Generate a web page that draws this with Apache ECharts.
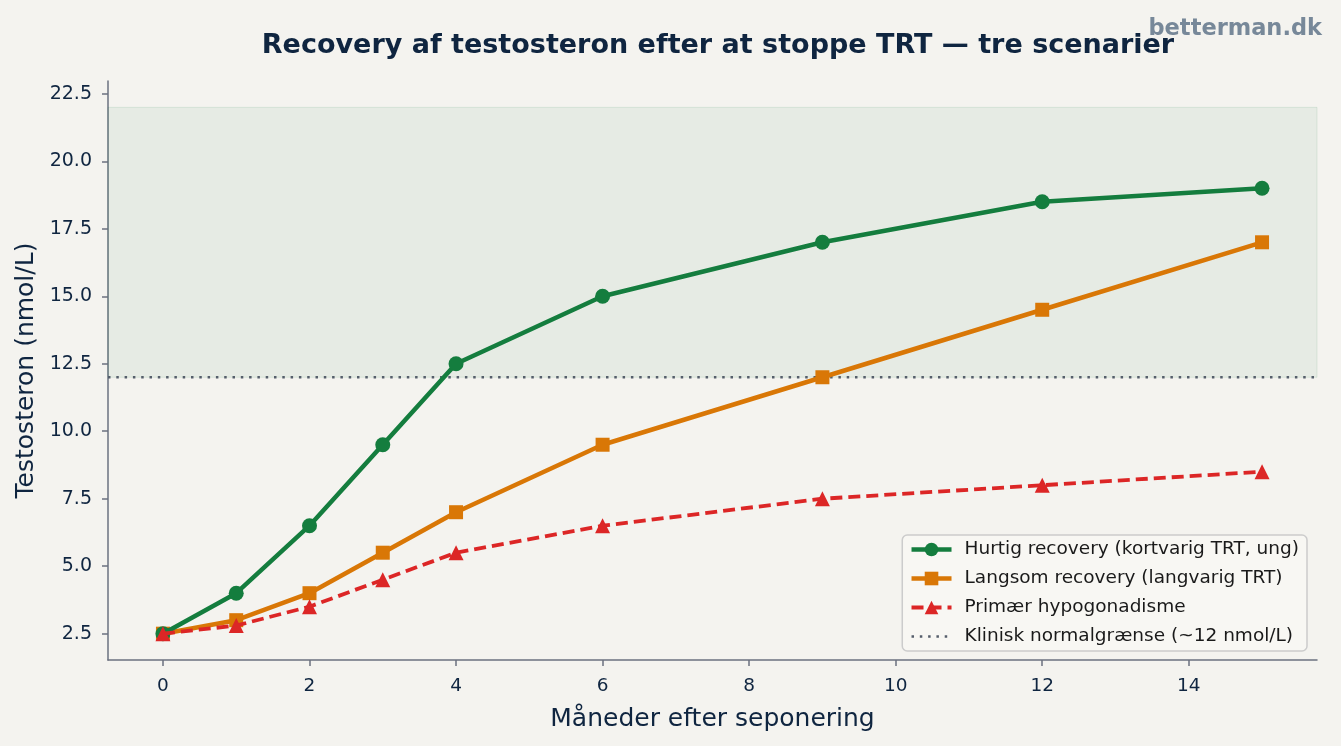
<!DOCTYPE html>
<html><head><meta charset="utf-8">
<script src="https://cdn.jsdelivr.net/npm/echarts@6/dist/echarts.min.js"></script>
<style>html,body{margin:0;padding:0;background:#f4f3ef;}#c{width:1341px;height:746px;}</style>
</head><body><div id="c"></div>
<script>
const months = [0, 1, 2, 3, 4, 6, 9, 12, 15];
const fastRecovery = [2.5, 4, 6.5, 9.5, 12.5, 15, 17, 18.5, 19];
const slowRecovery = [2.5, 3, 4, 5.5, 7, 9.5, 12, 14.5, 17];
const primaryHypo = [2.5, 2.8, 3.5, 4.5, 5.5, 6.5, 7.5, 8, 8.5];
const normalLimit = 12;
const normalTop = 22;
const xTicks = [0, 2, 4, 6, 8, 10, 12, 14];
const yTicks = [2.5, 5, 7.5, 10, 12.5, 15, 17.5, 20, 22.5];
const seriesNames = ['Hurtig recovery (kortvarig TRT, ung)', 'Langsom recovery (langvarig TRT)', 'Primær hypogonadisme', 'Klinisk normalgrænse (~12 nmol/L)'];

const xMin = -0.75, xMax = 15.75, yMin = 1.525, yMax = 22.975;
const pair = arr => months.map((m, i) => [m, arr[i]]);
const font = 'DejaVu Sans';
const axisCol = '#6b7280';
const txt = '#0f2540';

const chart = echarts.init(document.getElementById('c'), null, {renderer: 'canvas'});
chart.setOption({
  backgroundColor: '#f4f3ef',
  animation: false,
  textStyle: {fontFamily: font},
  title: [{
    text: 'Recovery af testosteron efter at stoppe TRT — tre scenarier',
    left: 713, top: 27, textAlign: 'center',
    textStyle: {fontFamily: font, fontSize: 27, fontWeight: 'bold', color: txt}
  }, {
    text: 'betterman.dk', right: 14, top: 13,
    textStyle: {fontFamily: font, fontSize: 22.5, fontWeight: 'bold', color: '#778899'}
  }],
  grid: {left: 108, right: 24, top: 81, bottom: 86, containLabel: false},
  xAxis: {
    type: 'value', min: xMin, max: xMax,
    name: 'Måneder efter seponering', nameLocation: 'middle', nameGap: 47,
    nameTextStyle: {fontFamily: font, fontSize: 25, color: txt},
    axisLine: {show: true, onZero: false, lineStyle: {color: axisCol, width: 1.5}},
    axisTick: {show: true, length: 6, customValues: xTicks, lineStyle: {color: axisCol, width: 1.5}},
    axisLabel: {customValues: xTicks, fontFamily: font, fontSize: 18.5, color: txt, margin: 17},
    splitLine: {show: false}
  },
  yAxis: {
    type: 'value', min: yMin, max: yMax,
    name: 'Testosteron (nmol/L)', nameLocation: 'middle', nameGap: 68, nameRotate: 90,
    nameTextStyle: {fontFamily: font, fontSize: 25, color: txt},
    axisLine: {show: true, onZero: false, lineStyle: {color: axisCol, width: 1.5}},
    axisTick: {show: true, length: 6, customValues: yTicks, lineStyle: {color: axisCol, width: 1.5}},
    axisLabel: {customValues: yTicks, fontFamily: font, fontSize: 19, color: txt, margin: 16,
      formatter: v => v.toFixed(1)},
    splitLine: {show: false}
  },
  legend: {
    right: 34, bottom: 95,
    orient: 'vertical',
    itemWidth: 40, itemHeight: 17, itemGap: 10,
    padding: [5, 8, 5, 7],
    backgroundColor: 'rgba(248,247,243,0.9)',
    borderColor: '#cccccc', borderWidth: 1.5, borderRadius: 5,
    textStyle: {fontFamily: font, fontSize: 18.5, lineHeight: 19, color: '#1a1a1a', padding: [0, 0, 0, 8]},
    data: [
      {name: seriesNames[0], lineStyle: {width: 4.5}},
      {name: seriesNames[1], lineStyle: {width: 4.5}},
      {name: seriesNames[2], lineStyle: {width: 3.8}},
      {name: seriesNames[3], itemStyle: {opacity: 0}, lineStyle: {width: 2.5}}
    ]
  },
  series: [
    {
      name: seriesNames[3], type: 'line', data: [[xMin, normalLimit], [xMax, normalLimit]],
      symbol: 'none', z: 1,
      lineStyle: {color: '#555e6b', width: 2.5, type: [2.5, 5.8]},
      itemStyle: {color: '#555e6b'},
      markArea: {silent: true, itemStyle: {color: 'rgba(20,125,62,0.06)', borderColor: 'rgba(20,125,62,0.1)', borderWidth: 1},
        data: [[{coord: [xMin, normalLimit]}, {coord: [xMax, normalTop]}]]}
    },
    {
      name: seriesNames[0], type: 'line', data: pair(fastRecovery), z: 4,
      symbol: 'circle', symbolSize: 15,
      lineStyle: {color: '#147d3e', width: 4.5}, itemStyle: {color: '#147d3e'}
    },
    {
      name: seriesNames[1], type: 'line', data: pair(slowRecovery), z: 3,
      symbol: 'rect', symbolSize: 14,
      lineStyle: {color: '#d97706', width: 4.5}, itemStyle: {color: '#d97706'}
    },
    {
      name: seriesNames[2], type: 'line', data: pair(primaryHypo), z: 5,
      symbol: 'triangle', symbolSize: 15,
      lineStyle: {color: '#dc2626', width: 3.8, type: [12, 6]}, itemStyle: {color: '#dc2626'}
    }
  ]
});
</script></body></html>
